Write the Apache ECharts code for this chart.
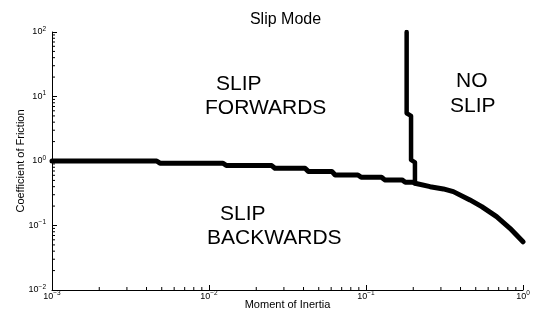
<!DOCTYPE html>
<html>
<head>
<meta charset="utf-8">
<script src="https://cdn.jsdelivr.net/npm/echarts@6/dist/echarts.min.js"></script>
<style>
html,body{margin:0;padding:0;background:#fff;}
#chart{width:534px;height:321px;}
</style>
</head>
<body>
<div id="chart"></div>
<script>
// Slip boundary curve (Coefficient of Friction vs Moment of Inertia)
const stairX = [0.001, 0.00464, 0.00487, 0.01228, 0.0129, 0.02508, 0.0263, 0.0409, 0.0429, 0.0606, 0.0636, 0.0888, 0.0932, 0.1255, 0.1318, 0.1696, 0.178, 0.199, 0.205, 0.256, 0.311, 0.360, 0.459, 0.546, 0.679, 0.826, 1.0];
const stairY = [1.0, 1.0, 0.925, 0.925, 0.849, 0.849, 0.773, 0.773, 0.69, 0.69, 0.608, 0.608, 0.560, 0.560, 0.509, 0.509, 0.469, 0.469, 0.452, 0.40, 0.369, 0.335, 0.249, 0.196, 0.137, 0.0906, 0.056];
// No-slip boundary
const boundX = [0.1815, 0.1815, 0.1936, 0.1936, 0.205, 0.205];
const boundY = [100, 5.5, 5.0, 1.04, 0.95, 0.45];
// axes
const xDecades = [0.001, 0.01, 0.1];
const yDecades = [0.01, 0.1, 1, 10];
const minorMult = [2, 3, 4, 5, 6, 7, 8, 9];
const xMin = 0.001, xMax = 1, yMin = 0.01, yMax = 100;
const titleText = 'Slip Mode';
const xName = 'Moment of Inertia';
const yName = 'Coefficient of Friction';
const regionLabels = [
  {text: 'SLIP', x: 216, y: 84},
  {text: 'FORWARDS', x: 205, y: 108},
  {text: 'NO', x: 456, y: 81},
  {text: 'SLIP', x: 450, y: 106},
  {text: 'SLIP', x: 220, y: 214},
  {text: 'BACKWARDS', x: 207, y: 238}
];

const FONT = '"Liberation Sans", Arial, Helvetica, sans-serif';
const xMinor = [], yMinor = [];
xDecades.forEach(d => minorMult.forEach(m => xMinor.push([d * m, yMin])));
yDecades.forEach(d => minorMult.forEach(m => yMinor.push([xMin, d * m])));

function expLabel(v) {
  const e = Math.round(Math.log10(v));
  const s = e < 0 ? '\u2212' + (-e) : String(e);
  return '{b|10}{s|' + s + '}';
}
const rich = {
  b: {fontSize: 9, lineHeight: 13, fontFamily: FONT, color: '#000'},
  s: {fontSize: 6.5, lineHeight: 5, verticalAlign: 'top', fontFamily: FONT, color: '#000'}
};

const chart = echarts.init(document.getElementById('chart'), null, {renderer: 'canvas'});
chart.setOption({
  animation: false,
  backgroundColor: '#fff',
  title: {
    text: titleText, left: 280.5, textAlign: 'center', top: 7,
    textStyle: {fontSize: 16, fontWeight: 'normal', color: '#000', fontFamily: FONT}
  },
  grid: {left: 52, right: 11, top: 32, bottom: 31, containLabel: false},
  xAxis: {
    type: 'log', logBase: 10, min: xMin, max: xMax, interval: 1,
    name: xName, nameLocation: 'middle', nameGap: 9, nameMoveOverlap: false,
    nameTextStyle: {fontSize: 11, color: '#000', fontFamily: FONT},
    axisLine: {show: true, lineStyle: {color: '#000', width: 1}},
    axisTick: {show: true, inside: true, length: 5, lineStyle: {color: '#000'}},
    axisLabel: {margin: 0, formatter: expLabel, rich: rich, hideOverlap: false},
    splitLine: {show: false}
  },
  yAxis: {
    type: 'log', logBase: 10, min: yMin, max: yMax, interval: 1,
    name: yName, nameLocation: 'middle', nameGap: 26, nameMoveOverlap: false,
    nameTextStyle: {fontSize: 11, color: '#000', fontFamily: FONT},
    axisLine: {show: true, lineStyle: {color: '#000', width: 1}},
    axisTick: {show: true, inside: true, length: 5, lineStyle: {color: '#000'}},
    axisLabel: {margin: 6, formatter: expLabel, rich: rich, hideOverlap: false},
    splitLine: {show: false}
  },
  series: [
    {
      type: 'line', data: stairX.map((x, i) => [x, stairY[i]]),
      showSymbol: false, symbol: 'none', smooth: false,
      lineStyle: {color: '#000', width: 5, cap: 'round', join: 'round'}
    },
    {
      type: 'line', data: boundX.map((x, i) => [x, boundY[i]]),
      showSymbol: false, symbol: 'none', smooth: false,
      lineStyle: {color: '#000', width: 4.5, cap: 'round', join: 'round'}
    },
    {
      type: 'custom', data: xMinor, silent: true, clip: false,
      renderItem: function (params, api) {
        const p = api.coord([api.value(0), api.value(1)]);
        return {type: 'line', shape: {x1: p[0], y1: p[1], x2: p[0], y2: p[1] - 3}, style: {stroke: '#000', lineWidth: 1}};
      }
    },
    {
      type: 'custom', data: yMinor, silent: true, clip: false,
      renderItem: function (params, api) {
        const p = api.coord([api.value(0), api.value(1)]);
        return {type: 'line', shape: {x1: p[0], y1: p[1], x2: p[0] + 3, y2: p[1]}, style: {stroke: '#000', lineWidth: 1}};
      }
    }
  ],
  graphic: regionLabels.map(l => ({
    type: 'text', x: l.x, y: l.y, silent: true,
    style: {text: l.text, fontSize: 21, fontFamily: FONT, fill: '#000', textAlign: 'left', textVerticalAlign: 'middle'}
  }))
});
</script>
</body>
</html>
